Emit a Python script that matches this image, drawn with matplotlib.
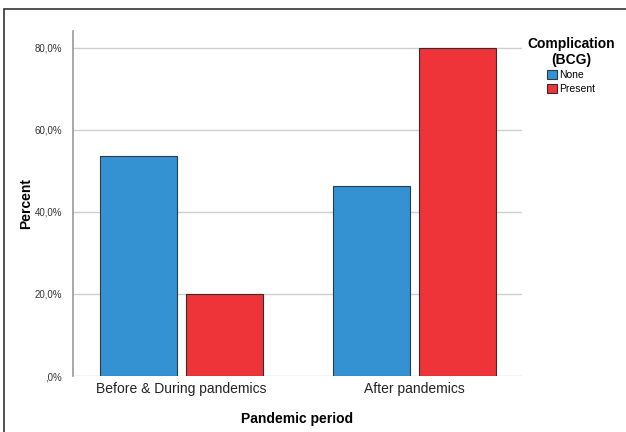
import numpy as np
import matplotlib
matplotlib.use('Agg')
import matplotlib.pyplot as plt
from matplotlib.patches import Rectangle

plt.rcParams['font.family'] = ['Liberation Sans', 'DejaVu Sans']

periods = ['Before & During pandemics', 'After pandemics']
none_pct = [53.7, 46.3]
present_pct = [20.0, 80.0]
groups = ['None', 'Present']
colors = ['#3592d2', '#ee3439']
yticks = [0, 20, 40, 60, 80]
ytick_labels = [',0%', '20,0%', '40,0%', '60,0%', '80,0%']

fig = plt.figure(figsize=(6.26, 4.32), dpi=100)
ax = fig.add_axes([73/626, 1-376/432, 449/626, 345/432])

x = np.arange(len(periods))
w = 0.33
off = 0.1845
ax.bar(x - off, none_pct, w, color=colors[0], edgecolor='#2a3a4a', linewidth=0.8, zorder=3, label=groups[0])
ax.bar(x + off, present_pct, w, color=colors[1], edgecolor='#3a2a2a', linewidth=0.8, zorder=3, label=groups[1])

ax.set_xlim(-0.466, 1.461)
ax.set_ylim(0, 84.1)
ax.set_yticks(yticks)
ax.set_yticklabels(ytick_labels, fontsize=7, color='#333333')
ax.set_xticks(x)
ax.set_xticklabels(periods, fontsize=10, color='#222222')
ax.tick_params(axis='both', length=0, pad=4)
ax.tick_params(axis='y', pad=8)
ax.grid(axis='y', color='#cfcfcf', linewidth=1, zorder=0)
for s in ['top', 'right', 'bottom']:
    ax.spines[s].set_visible(False)
ax.spines['left'].set_color('#999999')
ax.spines['left'].set_linewidth(1.2)

ax.set_ylabel('Percent', fontsize=10, fontweight='bold')
ax.yaxis.set_label_coords((33 - 73) / 449, 0.5)
ax.set_xlabel('Pandemic period', fontsize=10, fontweight='bold', labelpad=12)

leg = fig.legend(title='Complication\n(BCG)', loc='upper center', bbox_to_anchor=(571/626, 1 - 33/432),
                 frameon=False, fontsize=7.5, handlelength=0.9, handleheight=0.9,
                 handletextpad=0.2, borderaxespad=0.0, labelspacing=0.35)
leg.get_title().set_fontweight('bold')
leg.get_title().set_fontsize(10)
leg.get_title().set_multialignment('center')
leg._legend_box.sep = 2

# outer frame
fig.patches.append(Rectangle((4/626, -0.01), 1.0, 1 - 9/432 + 0.01, transform=fig.transFigure,
                             fill=False, edgecolor='#333333', linewidth=1.2))

fig.savefig('out.png', dpi=100)
